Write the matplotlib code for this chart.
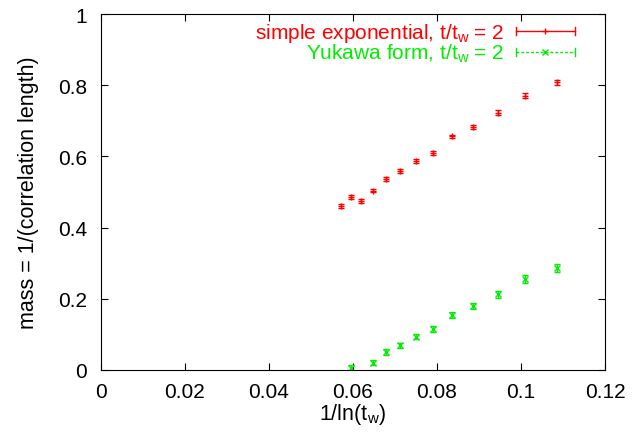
import matplotlib
matplotlib.use("Agg")
import matplotlib.pyplot as plt
from matplotlib.lines import Line2D
from matplotlib.legend_handler import HandlerLine2D

plt.rcParams['font.family'] = ['Liberation Sans', 'DejaVu Sans']
plt.rcParams['mathtext.fontset'] = 'custom'
plt.rcParams['mathtext.rm'] = 'Liberation Sans'
plt.rcParams['mathtext.it'] = 'Liberation Sans'

# simple exponential fit, t/t_w = 2
x_exp = [0.0571, 0.0595, 0.0620, 0.0647, 0.0679, 0.0711, 0.0749,
         0.0790, 0.0835, 0.0886, 0.0945, 0.1010, 0.1086]
m_exp = [0.461, 0.486, 0.475, 0.504, 0.537, 0.559, 0.587,
         0.610, 0.656, 0.682, 0.723, 0.771, 0.808]
e_exp = [0.005, 0.006, 0.005, 0.005, 0.005, 0.005, 0.005,
         0.005, 0.005, 0.005, 0.006, 0.007, 0.008]

# Yukawa form fit, t/t_w = 2
x_yuk = [0.0595, 0.0647, 0.0679, 0.0711, 0.0749, 0.0790,
         0.0835, 0.0886, 0.0945, 0.1010, 0.1086]
m_yuk = [0.007, 0.021, 0.051, 0.069, 0.094, 0.115,
         0.154, 0.179, 0.213, 0.256, 0.287]
e_yuk = [0.007, 0.007, 0.008, 0.008, 0.008, 0.009,
         0.009, 0.009, 0.010, 0.011, 0.012]

xticks = [0, 0.02, 0.04, 0.06, 0.08, 0.1, 0.12]
xticklabels = ['0', '0.02', '0.04', '0.06', '0.08', '0.1', '0.12']
yticks = [0, 0.2, 0.4, 0.6, 0.8, 1]
yticklabels = ['0', '0.2', '0.4', '0.6', '0.8', '1']

RED = '#ff0000'
GREEN = '#00ee00'
FS = 15


class CapHandler(HandlerLine2D):
    # gnuplot style errorbar key: horizontal line with caps at both ends
    def create_artists(self, legend, orig_handle, xdescent, ydescent,
                       width, height, fontsize, trans):
        arts = super().create_artists(legend, orig_handle, xdescent, ydescent,
                                      width, height, fontsize, trans)
        y = (height - ydescent) / 2.
        c = 3.0
        for x in (-xdescent, width - xdescent):
            cap = Line2D([x, x], [y - c, y + c], color=orig_handle.get_color(), lw=1)
            cap.set_transform(trans)
            arts.append(cap)
        return arts


fig = plt.figure(figsize=(6.42, 4.39), dpi=100)
ax = fig.add_axes([0.1573, 0.1549, 0.7851, 0.8109])

ax.errorbar(x_exp, m_exp, yerr=e_exp, fmt='+', color=RED, ms=4, mew=1,
            elinewidth=1, capsize=2.5, capthick=1)
ax.errorbar(x_yuk, m_yuk, yerr=e_yuk, fmt='x', color=GREEN, ms=4, mew=1,
            elinewidth=1, capsize=2.5, capthick=1)

ax.set_xlim(0, 0.12)
ax.set_ylim(0, 1)
ax.set_xticks(xticks)
ax.set_xticklabels(xticklabels)
ax.set_yticks(yticks)
ax.set_yticklabels(yticklabels)
ax.tick_params(axis='x', direction='in', top=True, length=5, labelsize=FS, pad=9)
ax.tick_params(axis='y', direction='in', right=True, length=5, labelsize=FS, pad=10)
for s in ax.spines.values():
    s.set_linewidth(0.8)

ax.set_xlabel('1/ln(t$_\\mathrm{w}$)', fontsize=15.5, labelpad=0)
ax.set_ylabel('mass = 1/(correlation length)', fontsize=15.5, labelpad=14)

h_exp = Line2D([], [], color=RED, lw=1, marker='+', ms=4)
h_yuk = Line2D([], [], color=GREEN, lw=1, ls=(0, (2, 1.5)), marker='x', ms=4)
leg = ax.legend([h_exp, h_yuk],
                ['simple exponential, t/t$_\\mathrm{w}$ = 2', 'Yukawa form, t/t$_\\mathrm{w}$ = 2'],
                loc='upper right', frameon=False, markerfirst=False, fontsize=FS,
                handlelength=2.85, handletextpad=0.55, labelspacing=-0.1,
                borderaxespad=0.2, bbox_to_anchor=(0.965, 1.015),
                handler_map={Line2D: CapHandler()})
for txt, c in zip(leg.get_texts(), [RED, GREEN]):
    txt.set_color(c)

fig.savefig('out.png', dpi=100)
